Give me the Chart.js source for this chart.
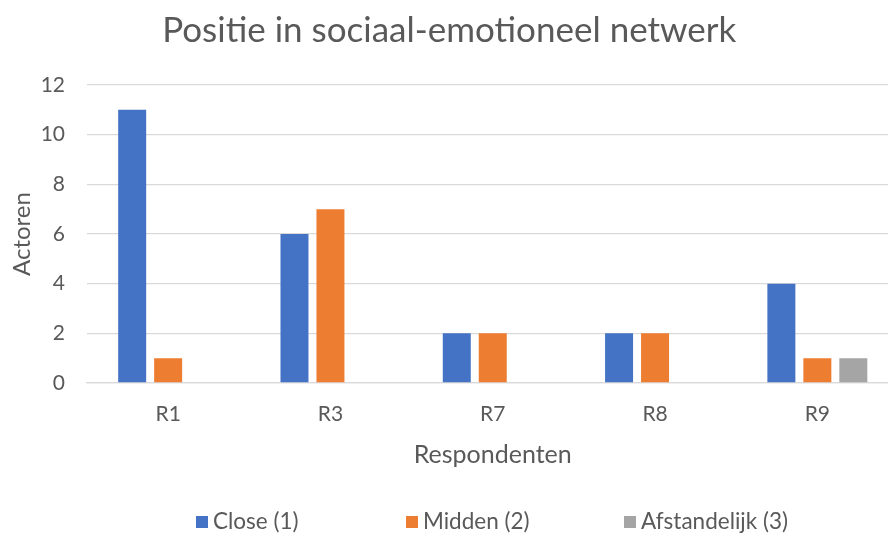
<!DOCTYPE html>
<html><head><meta charset="utf-8">
<script src="https://cdn.jsdelivr.net/npm/chart.js@4"></script>
<style>html,body{margin:0;padding:0;overflow:hidden;background:#fff}#wrap{width:888px;height:535px;overflow:hidden}</style>
</head><body>
<div id="wrap"><canvas id="c" width="900" height="535" style="width:900px;height:535px"></canvas></div>
<script>
const categories = ['R1', 'R3', 'R7', 'R8', 'R9'];
const closeValues = [11, 6, 2, 2, 4];
const middenValues = [1, 7, 2, 2, 1];
const afstandelijkValues = [0, 0, 0, 0, 1];
const seriesNames = ['Close (1)', 'Midden (2)', 'Afstandelijk (3)'];
const yTickValues = [0, 2, 4, 6, 8, 10, 12];

const FONT = 'Lato, "Open Sans", sans-serif';
const TEXT = '#595959';
const colors = ['#4472C4', '#ED7D31', '#A5A5A5'];
const legendX = [196, 406, 624];

const legendPlugin = {
  id: 'customLegend',
  afterDraw(chart) {
    const ctx = chart.ctx;
    ctx.save();
    ctx.font = '22.5px ' + FONT;
    ctx.textBaseline = 'middle';
    chart.data.datasets.forEach((ds, i) => {
      const x = legendX[i];
      const y = 522;
      ctx.fillStyle = ds.backgroundColor;
      ctx.fillRect(x, y - 6, 12, 12);
      ctx.fillStyle = TEXT;
      ctx.fillText(ds.label, x + 17, y);
    });
    ctx.restore();
  }
};

new Chart(document.getElementById('c'), {
  type: 'bar',
  data: {
    labels: categories,
    datasets: [
      { label: seriesNames[0], data: closeValues, backgroundColor: colors[0] },
      { label: seriesNames[1], data: middenValues, backgroundColor: colors[1] },
      { label: seriesNames[2], data: afstandelijkValues, backgroundColor: colors[2] }
    ]
  },
  options: {
    responsive: false,
    animation: false,
    layout: { padding: { left: 0, right: 1.5, top: 0, bottom: 60 } },
    datasets: { bar: { categoryPercentage: 0.665, barPercentage: 0.778, borderWidth: 0 } },
    plugins: {
      legend: { display: false },
      tooltip: { enabled: false },
      title: {
        display: true,
        text: 'Positie in sociaal-emotioneel netwerk',
        color: TEXT,
        font: { family: FONT, size: 35, weight: 'normal' },
        padding: { top: 10, bottom: 33 }
      }
    },
    scales: {
      x: {
        grid: { display: false },
        border: { display: true, color: '#D9D9D9', width: 1.3 },
        ticks: { color: TEXT, font: { family: FONT, size: 21 }, padding: 11 },
        title: {
          display: true, text: 'Respondenten', color: TEXT,
          font: { family: FONT, size: 25 }, padding: { top: 0, bottom: 5 }
        },
        afterFit(s) { s.height = 92; }
      },
      y: {
        min: 0, max: 12,
        afterBuildTicks(s) { s.ticks = yTickValues.map(v => ({ value: v })); },
        grid: { color: '#D9D9D9', lineWidth: 1.3, drawTicks: false },
        border: { display: false },
        ticks: { color: TEXT, font: { family: FONT, size: 21 }, padding: 22 },
        title: {
          display: true, text: 'Actoren', color: TEXT,
          font: { family: FONT, size: 24 }, padding: { top: 8, bottom: 0 }
        },
        afterFit(s) { s.width = 87; }
      }
    }
  },
  plugins: [legendPlugin]
});
</script>
</body></html>
